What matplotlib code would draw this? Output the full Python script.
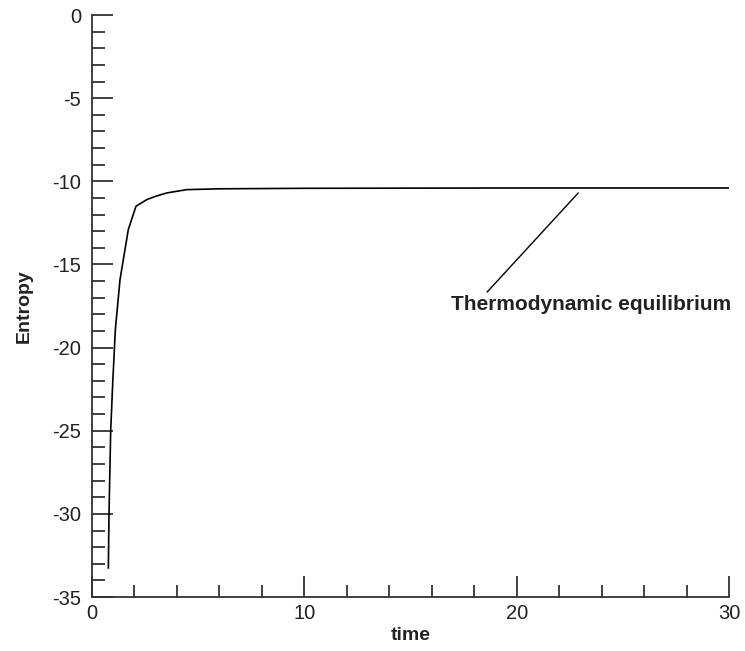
import matplotlib
matplotlib.use("Agg")
import matplotlib.pyplot as plt
from matplotlib.ticker import MultipleLocator

plt.rcParams['font.family'] = ['Liberation Sans', 'DejaVu Sans']
plt.rcParams['axes.unicode_minus'] = False

# entropy curve
time = [0.77, 0.80, 0.88, 0.98, 1.10, 1.32, 1.71, 2.07, 2.58, 3.0, 3.52, 4.46, 6.0, 10.0, 20.0, 30.0]
entropy = [-33.25, -30.0, -25.0, -22.0, -18.9, -15.9, -12.9, -11.5, -11.1, -10.9, -10.7, -10.5, -10.45, -10.42, -10.4, -10.4]

note_text = "Thermodynamic equilibrium"
note_xy = (22.9, -10.7)
note_text_xy = (23.5, -17.4)

fig = plt.figure(figsize=(7.45, 6.51), dpi=100)
ax = fig.add_axes([0.1235, 0.0829, 0.855, 0.894])

ax.plot(time, entropy, color='black', lw=1.2)

ax.set_xlim(0, 30)
ax.set_ylim(-35, 0)
ax.spines['top'].set_visible(False)
ax.spines['right'].set_visible(False)
for s in ('left', 'bottom'):
    ax.spines[s].set_linewidth(1.3)
    ax.spines[s].set_color('#333333')

ax.xaxis.set_major_locator(MultipleLocator(10))
ax.xaxis.set_minor_locator(MultipleLocator(2))
ax.yaxis.set_major_locator(MultipleLocator(5))
ax.yaxis.set_minor_locator(MultipleLocator(1))
ax.tick_params(which='both', direction='in', color='#333333', width=1.3, labelsize=14.5, labelcolor='#222222')
ax.tick_params(which='major', length=15)
ax.tick_params(which='minor', length=9)
ax.tick_params(axis='x', which='major', pad=5)
ax.tick_params(axis='y', which='major', pad=8)

ax.set_xlabel('time', fontsize=14, fontweight='bold', color='#222222', labelpad=3)
ax.set_ylabel('Entropy', fontsize=14, fontweight='bold', color='#222222', labelpad=14)

ax.annotate(note_text, xy=note_xy, xytext=note_text_xy,
            fontsize=15, fontweight='bold', color='#222222',
            ha='center', va='center',
            arrowprops=dict(arrowstyle='-', color='black', lw=1.0,
                            shrinkA=0, shrinkB=0, relpos=(0.12, 1.0)))

fig.savefig('out.png', dpi=100)
